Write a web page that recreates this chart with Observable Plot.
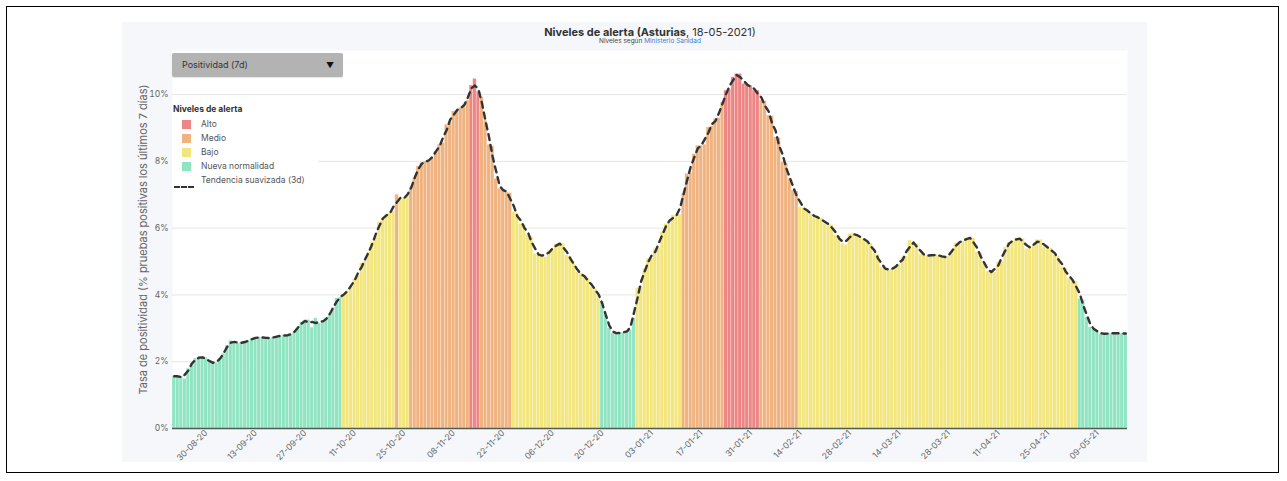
<!DOCTYPE html>
<html>
<head>
<meta charset="utf-8">
<script src="https://cdn.jsdelivr.net/npm/d3@7"></script>
<script src="https://cdn.jsdelivr.net/npm/@observablehq/plot@0.6"></script>
<style>
  html, body { margin: 0; padding: 0; background: white; }
  #wrap { position: relative; width: 1287px; height: 481px; font-family: Inter, "Noto Sans", sans-serif; overflow: hidden; }
  #border { position: absolute; left: 6px; top: 6px; width: 1273px; height: 467px; border: 1px solid #000; box-sizing: border-box; }
  #panel { position: absolute; left: 122px; top: 22px; width: 1025px; height: 440px; background: #f5f7fa; }
  #chart { position: absolute; left: 0; top: 0; }
  #title { position: absolute; left: 400px; width: 500px; top: 25px; text-align: center; font-size: 11px; color: #333; }
  #subtitle { position: absolute; left: 400px; width: 500px; top: 37px; text-align: center; font-size: 6.5px; color: #444; }
  #dropdown { position: absolute; left: 172px; top: 53px; width: 171px; height: 24px; background: #b3b3b3; border-radius: 2px; font-size: 9px; color: #333; line-height: 24px; box-sizing: border-box; padding-left: 10px; box-shadow: 0 1px 1px rgba(0,0,0,0.1); }
  #dropdown .arr { position: absolute; right: 9px; top: 0; font-size: 8px; color: #111; }
  #legend { position: absolute; left: 172px; top: 101px; width: 146px; height: 86px; background: white; font-size: 8.5px; color: #555; }
  #legend .lt { position: absolute; left: 1px; top: 3px; font-weight: bold; color: #333; }
  #legend .row { position: absolute; left: 29px; height: 12px; line-height: 12px; }
  #legend .sw { position: absolute; left: 10px; width: 9px; height: 9px; }
  #legend .dash { position: absolute; left: 2px; width: 20px; height: 0; border-top: 2px dashed #333; }
</style>
</head>
<body>
<div id="wrap">
  <div id="border"></div>
  <div id="panel"></div>
  <div id="chart"></div>
  <div id="title"><b>Niveles de alerta (Asturias</b>, 18-05-2021)</div>
  <div id="subtitle">Niveles según <span style="color:#3d7fd6">Ministerio Sanidad</span></div>
  <div id="dropdown">Positividad (7d)<span class="arr">▼</span></div>
  <div id="legend"></div>
</div>
<script>
// ---- Data ----
const startDate = "2020-08-21";   // first daily bar
const positivity = [
  1.57,1.56,1.56,1.49,1.79,1.95,2.1,2.13,2.14,2.12,
  1.98,1.95,1.97,2.08,2.24,2.48,2.63,2.6,2.55,2.57,
  2.58,2.62,2.69,2.72,2.73,2.73,2.71,2.70,2.72,2.76,
  2.78,2.79,2.78,2.8,2.9,3.0,3.18,3.24,3.25,3.02,
  3.3,3.15,3.16,3.31,3.38,3.62,3.9,3.92,
  4.0,4.13,4.23,4.48,4.58,4.95,5.0,5.28,5.58,5.73,
  6.18,6.3,6.4,6.45,6.5,7.0,6.85,6.9,6.95,7.2,
  7.5,7.85,7.95,8.0,8.0,8.1,8.3,8.5,8.55,9.1,
  9.15,9.5,9.52,9.6,9.65,9.82,10.27,10.47,10.08,9.92,
  9.22,8.5,8.45,7.48,7.18,7.15,7.08,7.05,
  6.48,6.45,6.13,6.1,5.78,5.75,5.23,5.2,5.2,5.13,
  5.33,5.35,5.53,5.55,5.53,5.18,5.15,4.93,4.68,4.65,
  4.53,4.5,4.23,4.2,4.03,3.8,3.4,3.0,2.85,2.85,
  2.87,2.87,2.9,2.95,3.3,
  4.2,4.25,4.78,5.08,5.1,5.38,5.4,5.88,6.13,6.15,
  6.38,6.38,6.4,7.03,7.63,7.65,8.22,8.47,8.47,8.5,
  9.02,9.05,9.27,9.3,9.77,10.12,10.15,10.52,10.62,10.62,
  10.32,10.3,10.27,10.12,10.12,9.82,9.8,9.37,9.35,8.72,
  8.7,7.98,7.95,7.48,7.13,7.1,
  6.63,6.6,6.55,6.43,6.33,6.33,6.3,6.13,6.13,6.1,
  5.78,5.75,5.53,5.5,5.83,5.85,5.78,5.75,5.68,5.58,
  5.55,5.23,5.2,4.83,4.8,4.73,4.75,4.88,4.9,5.13,
  5.15,5.63,5.55,5.53,5.23,5.2,5.18,5.15,5.23,5.2,
  5.13,5.13,5.15,5.3,5.55,5.58,5.6,5.7,5.72,5.7,
  5.28,5.25,4.93,4.7,
  4.68,4.68,4.98,5.0,5.43,5.58,5.6,5.68,5.7,5.68,
  5.38,5.4,5.48,5.65,5.65,5.43,5.42,5.4,5.18,5.15,
  4.83,4.8,4.48,4.45,4.4,3.88,3.85,3.33,3.03,3.0,
  2.9,2.83,2.83,2.85,2.85,2.86,2.85,2.85,2.84
];
// alert level runs (level, number of consecutive days)
const levelRuns = [
  ["Nueva normalidad",48],["Bajo",15],["Medio",1],["Bajo",3],["Medio",17],["Alto",3],
  ["Medio",9],["Bajo",25],["Nueva normalidad",10],["Bajo",13],["Medio",12],["Alto",10],
  ["Medio",11],["Bajo",79],["Nueva normalidad",14]
];
const levelNames = ["Alto","Medio","Bajo","Nueva normalidad"];
const levelColors = ["#ec8584","#f0b27f","#f2e67c","#8fe4c2"];
const xTickLabels = ["30-08-20","13-09-20","27-09-20","11-10-20","25-10-20","08-11-20","22-11-20",
  "06-12-20","20-12-20","03-01-21","17-01-21","31-01-21","14-02-21","28-02-21","14-03-21",
  "28-03-21","11-04-21","25-04-21","09-05-21"];
const yTicks = [0,2,4,6,8,10];
const yLabel = "Tasa de positividad (% pruebas positivas los últimos 7 días)";

// ---- Build table ----
const fmt = d3.utcFormat("%d-%m-%y");
const levels = levelRuns.flatMap(([l,n]) => Array(n).fill(l));
const start = new Date(startDate + "T00:00:00Z");
const data = positivity.map((v,i) => ({
  date: fmt(d3.utcDay.offset(start, i)),
  value: v,
  level: levels[i]
}));

const chart = Plot.plot({
  width: 1287, height: 481,
  marginLeft: 172, marginRight: 160, marginTop: 50, marginBottom: 53,
  style: {background: "transparent", fontFamily: "Inter, 'Noto Sans', sans-serif"},
  x: {type: "band", domain: data.map(d => d.date), padding: 0, axis: null},
  y: {domain: [0, 11.32], axis: null},
  color: {domain: levelNames, range: levelColors},
  marks: [
    Plot.frame({fill: "white", stroke: "none"}),
    Plot.gridY(yTicks, {stroke: "#e6e6e6", strokeOpacity: 1}),
    Plot.barY(data, {x: "date", y: "value", fill: "level", stroke: "white", strokeOpacity: 0.45, strokeWidth: 0.6}),
    Plot.lineY(data, Plot.windowY({k: 3, anchor: "middle"}, {x: "date", y: "value", stroke: "#333", strokeWidth: 2.4, strokeDasharray: "6,5"})),
    Plot.ruleY([0], {stroke: "#4e5b4e", strokeWidth: 1.5}),
    Plot.axisY(yTicks, {tickSize: 0, tickPadding: 4, tickFormat: d => d + "%", fontSize: 8.5, color: "#666", label: null}),
    Plot.axisX(xTickLabels, {tickSize: 0, tickPadding: 3, tickRotate: -45, fontSize: 8.5, color: "#666", label: null}),
    Plot.text([yLabel], {frameAnchor: "left", dx: -29, rotate: -90, textAnchor: "middle", fontSize: 11, fill: "#666"})
  ]
});
document.getElementById("chart").appendChild(chart);

// ---- Legend ----
const lg = document.getElementById("legend");
lg.innerHTML = '<div class="lt">Niveles de alerta</div>' +
  levelNames.map((n,i) => `<div class="sw" style="top:${19 + i*14}px;background:${levelColors[i]}"></div><div class="row" style="top:${17 + i*14}px">${n}</div>`).join("") +
  `<div class="dash" style="top:${23 + 4*14 + 6}px"></div><div class="row" style="top:${17 + 4*14}px">Tendencia suavizada (3d)</div>`;
</script>
</body>
</html>
